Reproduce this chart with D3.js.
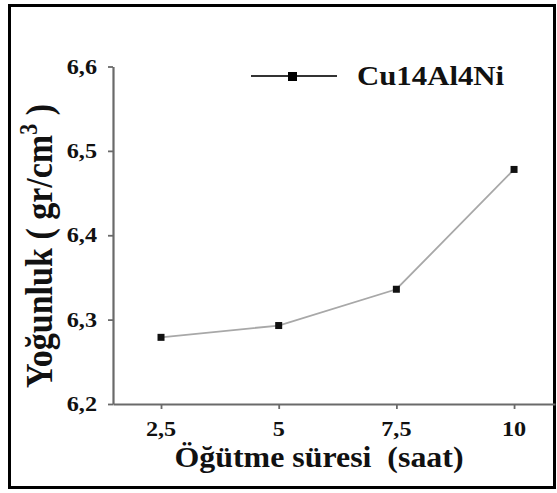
<!DOCTYPE html>
<html>
<head>
<meta charset="utf-8">
<script src="https://cdn.jsdelivr.net/npm/d3@7"></script>
<style>
  html, body { margin: 0; padding: 0; background: #fff; }
  svg text { font-weight: bold; fill: #111; white-space: pre; }
</style>
</head>
<body>
<svg id="chart" width="557" height="493"></svg>
<script>
// Milling time (hours) and measured density (g/cm3)
const millingHours = [2.5, 5, 7.5, 10];
const density = [6.279, 6.293, 6.336, 6.478];
const xTickValues = [2.5, 5, 7.5, 10];
const yTickValues = [6.2, 6.3, 6.4, 6.5, 6.6];
const seriesName = "Cu14Al4Ni";

const svg = d3.select("#chart");
const fontFamily = "'Liberation Serif', 'Times New Roman', Times, serif";
const fmt = d => String(d).replace(".", ",");
const stretch = 1.1; // horizontal widening of all text

// frame
svg.append("rect")
  .attr("x", 9.5).attr("y", 5.5).attr("width", 545).attr("height", 482)
  .attr("fill", "none").attr("stroke", "#000").attr("stroke-width", 3);

const x = d3.scaleLinear().domain([1.48, 10.87]).range([113, 555]);
const y = d3.scaleLinear().domain([6.2, 6.6]).range([404, 66.5]);

const axisColor = "#6a6a6a";

// x axis
const gx = svg.append("g").attr("transform", `translate(0,${y(6.2)})`)
  .call(d3.axisBottom(x).tickValues(xTickValues).tickSize(5).tickSizeOuter(0).tickFormat(""));
gx.select(".domain").attr("stroke", axisColor).attr("stroke-width", 2.2);
gx.selectAll(".tick line").attr("stroke", axisColor).attr("stroke-width", 1.8);

// y axis
const gy = svg.append("g").attr("transform", `translate(${x.range()[0]},0)`)
  .call(d3.axisLeft(y).tickValues(yTickValues).tickSize(5).tickSizeOuter(0).tickFormat(""));
gy.select(".domain").attr("stroke", axisColor).attr("stroke-width", 2.2);
gy.selectAll(".tick line").attr("stroke", axisColor).attr("stroke-width", 1.8);

// stretched text helper
function label(parent, tx, ty, text, size, anchor, rotate) {
  const g = parent.append("g")
    .attr("transform", `translate(${tx},${ty})` + (rotate ? ` rotate(${rotate}) scale(1,${stretch})` : ` scale(${stretch},1)`));
  return g.append("text")
    .attr("font-family", fontFamily).attr("font-weight", "bold")
    .attr("font-size", size).attr("text-anchor", anchor).text(text);
}

// tick labels
xTickValues.forEach(v => label(svg, x(v), 436, fmt(v), 22, "middle"));
yTickValues.forEach(v => label(svg, 97, y(v) + 7, fmt(v), 22, "end"));

// axis titles
label(svg, 319, 467, "Öğütme süresi  (saat)", 29, "middle");
const yt = label(svg, 52, 246, "", 34, "middle", -90);
yt.append("tspan").text("Yoğunluk ( gr/cm");
yt.append("tspan").attr("font-size", 22).attr("dy", -14).text("3");
yt.append("tspan").attr("dy", 14).text(" )");

// data line and markers
const line = d3.line().x((d, i) => x(millingHours[i])).y(d => y(d));
svg.append("path").datum(density)
  .attr("d", line).attr("fill", "none").attr("stroke", "#a8a8a8").attr("stroke-width", 1.8);

svg.selectAll("rect.pt").data(density).join("rect").attr("class", "pt")
  .attr("x", (d, i) => x(millingHours[i]) - 3.5).attr("y", d => y(d) - 3.5)
  .attr("width", 7).attr("height", 7).attr("fill", "#111");

// legend
svg.append("line").attr("x1", 251).attr("x2", 337).attr("y1", 76).attr("y2", 76)
  .attr("stroke", "#333").attr("stroke-width", 2);
svg.append("rect").attr("x", 288).attr("y", 72).attr("width", 9).attr("height", 9).attr("fill", "#000");
label(svg, 357, 85, seriesName, 28, "start");
</script>
</body>
</html>
